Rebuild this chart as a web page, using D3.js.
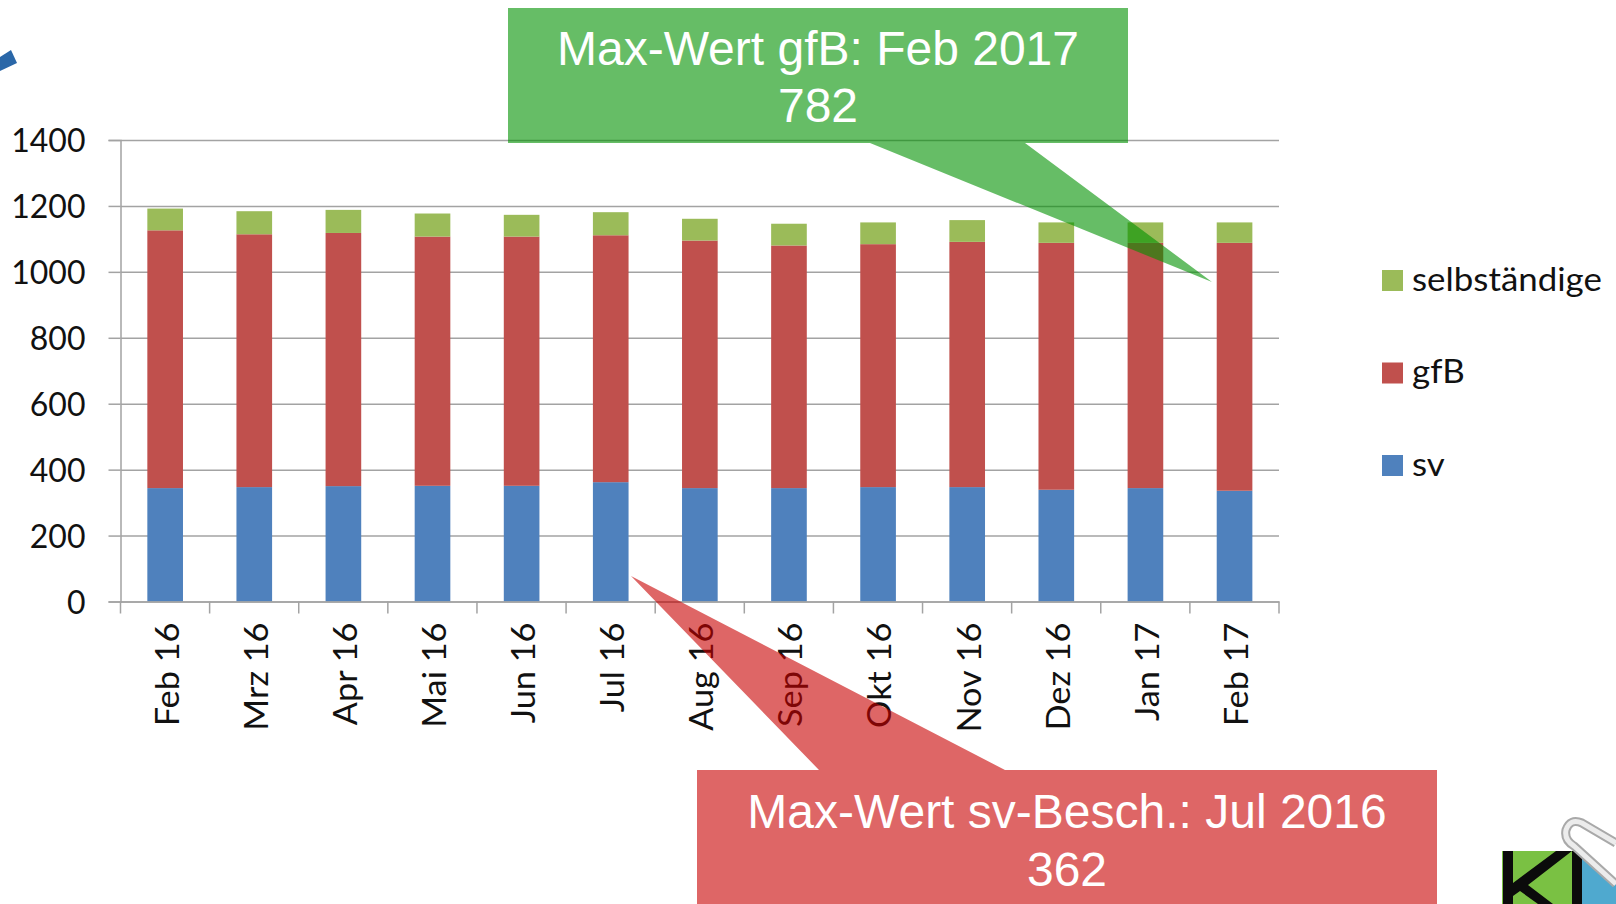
<!DOCTYPE html>
<html><head><meta charset="utf-8">
<script src="https://cdn.jsdelivr.net/npm/d3@7"></script>
<style>html,body{margin:0;padding:0;background:#fff;overflow:hidden}svg{display:block}</style>
</head><body><svg id="c" width="1616" height="904"></svg>
<script>
const months = ["Feb 16","Mrz 16","Apr 16","Mai 16","Jun 16","Jul 16","Aug 16","Sep 16","Okt 16","Nov 16","Dez 16","Jan 17","Feb 17"];
const sv = [344,347,350,351,351,362,344,344,347,347,339,344,336];
const gfB = [782,767,768,756,756,749,751,736,737,744,749,744,752];
const selbstaendige = [66,70,70,70,66,70,66,66,66,66,62,62,62];
const yTicks = [0,200,400,600,800,1000,1200,1400];
const seriesNames = ["sv","gfB","selbständige"];
const seriesColors = ["#4f81bd","#c0504d","#9bbb59"];
const legendNames = ["selbständige","gfB","sv"];
const calloutGreen = ["Max-Wert gfB: Feb 2017","782"];
const calloutRed = ["Max-Wert sv-Besch.: Jul 2016","362"];

const svg = d3.select("#c");
const FONT = "Lato, 'Open Sans', sans-serif";
const x = d3.scaleBand().domain(months).range([120.6,1279.1]).paddingInner(0.6).paddingOuter(0.3);
const y = d3.scaleLinear().domain([0,1400]).range([601.5,140]);

const rows = months.map((m,i)=>({month:m,sv:sv[i],gfB:gfB[i],"selbständige":selbstaendige[i]}));
const stacked = d3.stack().keys(seriesNames)(rows);

// y axis with gridlines
const gy = svg.append("g").attr("transform","translate(120.5,0)")
  .call(d3.axisLeft(y).tickValues(yTicks).tickSize(12).tickPadding(23).tickFormat(d3.format("d")));
gy.select(".domain").attr("stroke","#a3a3a3").attr("stroke-width",1.5);
gy.selectAll(".tick line").attr("stroke","#a3a3a3").attr("stroke-width",1.5);
gy.selectAll(".tick").append("line").attr("x1",0).attr("x2",1279-120.5)
  .attr("stroke","#a3a3a3").attr("stroke-width",1.5);
gy.selectAll("text").attr("font-family",FONT).attr("font-size",32).attr("fill","#111").attr("dy","0.37em");

// bars
svg.append("g").selectAll("g").data(stacked).join("g").attr("fill",(d,i)=>seriesColors[i])
  .selectAll("rect").data(d=>d).join("rect")
  .attr("x",d=>x(d.data.month)).attr("width",x.bandwidth())
  .attr("y",d=>y(d[1])).attr("height",d=>y(d[0])-y(d[1]));

// x axis
const edges = d3.scaleBand().domain(months).range([120.5,1279]);
const gx = svg.append("g").attr("transform",`translate(0,${y(0)})`)
  .call(d3.axisBottom(edges).tickSize(0).tickFormat(d=>d));
gx.select(".domain").attr("stroke","#a3a3a3").attr("stroke-width",1.5);
gx.selectAll(".tick line").remove();
gx.selectAll(".tick text")
  .attr("font-family",FONT).attr("font-size",33).attr("fill","#111")
  .attr("text-anchor","end").attr("dy",0).attr("y",0)
  .attr("transform","translate(13.5,21) rotate(-90) scale(1.04,1)");
svg.append("g").selectAll("line").data(d3.range(months.length+1)).join("line")
  .attr("x1",i=>edges.range()[0]+i*edges.step()).attr("x2",i=>edges.range()[0]+i*edges.step())
  .attr("y1",y(0)).attr("y2",y(0)+12).attr("stroke","#a3a3a3").attr("stroke-width",1.5);

// legend
const lg = d3.scalePoint().domain(legendNames).range([280.5,465.5]);
const colorOf = d3.scaleOrdinal().domain(seriesNames).range(seriesColors);
const leg = svg.append("g").selectAll("g").data(legendNames).join("g")
  .attr("transform",d=>`translate(1382,${lg(d)})`);
leg.append("rect").attr("y",-10.5).attr("width",21).attr("height",21).attr("fill",d=>colorOf(d));
leg.append("text").attr("transform","translate(30,10) scale(1.09,1)").attr("font-family",FONT).attr("font-size",32).attr("fill","#111").text(d=>d);

// callouts
const line = d3.line();
svg.append("path").attr("d",line([[508,8],[1128,8],[1128,143],[1025,143],[1212,282],[870,143],[508,143]])+"Z")
  .attr("fill","rgb(0,145,0)").attr("fill-opacity",0.6);
svg.append("path").attr("d",line([[697,770],[819,770],[631,576],[1005,770],[1437,770],[1437,904],[697,904]])+"Z")
  .attr("fill","rgb(200,0,0)").attr("fill-opacity",0.6);
const CF = "'Liberation Sans', Arial, sans-serif";
svg.append("g").selectAll("text").data(calloutGreen).join("text")
  .attr("x",818).attr("y",(d,i)=>65+i*57).attr("text-anchor","middle")
  .attr("font-family",CF).attr("font-size",48).attr("fill","#fff").text(d=>d);
svg.append("g").selectAll("text").data(calloutRed).join("text")
  .attr("x",1067).attr("y",(d,i)=>828+i*57.5).attr("text-anchor","middle")
  .attr("font-family",CF).attr("font-size",48).attr("fill","#fff").text(d=>d);

// decoration: blue arrow fragment
svg.append("path").attr("d",line([[0,57],[11,50],[17,63],[0,71]])+"Z").attr("fill","#2a67a8");
// decoration: logo fragment
const logo = svg.append("g");
logo.append("rect").attr("x",1502).attr("y",851).attr("width",80).attr("height",53).attr("fill","#7ac143");
logo.append("rect").attr("x",1582).attr("y",851).attr("width",34).attr("height",53).attr("fill","#4fa9cf");
logo.append("rect").attr("x",1503).attr("y",851).attr("width",10).attr("height",53).attr("fill","#0b0b0b");
logo.append("rect").attr("x",1572).attr("y",851).attr("width",10).attr("height",53).attr("fill","#0b0b0b");
logo.append("path").attr("d",line([[1513,883],[1556,851],[1572,851],[1528,885],[1553,904],[1538,904],[1520,891],[1513,896]])+"Z").attr("fill","#0b0b0b");
const clip = "M1616 843 L1582 823 Q1570 818 1566 830 Q1564 840 1574 846 L1616 884";
logo.append("path").attr("d",clip+" L1616 843 Z").attr("fill","#fff").attr("stroke","none");
logo.append("path").attr("d",clip).attr("fill","none").attr("stroke","#a9a9a9").attr("stroke-width",9);
logo.append("path").attr("d",clip).attr("fill","none").attr("stroke","#ececec").attr("stroke-width",5);
</script></body></html>
